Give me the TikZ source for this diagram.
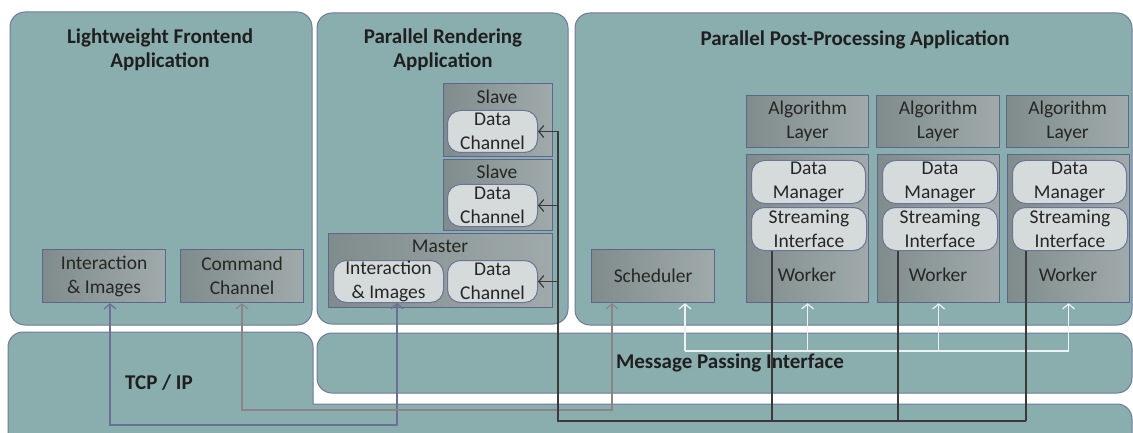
\documentclass[tikz,border=0pt]{standalone}
\usepackage{fontspec}
\setmainfont{Carlito}
\usetikzlibrary{arrows.meta}
\definecolor{panel}{HTML}{8AAEAE}
\definecolor{pedge}{HTML}{6F7A9C}
\definecolor{gboxA}{HTML}{808C8C}
\definecolor{gboxB}{HTML}{A0AAAA}
\definecolor{bedge}{HTML}{5D6590}
\definecolor{pillc}{HTML}{D5DADB}
\definecolor{pilledge}{HTML}{6E7498}
\definecolor{lblue}{HTML}{6C6F96}
\definecolor{lgray}{HTML}{8A8484}
\definecolor{ldark}{HTML}{3A3A3A}
\definecolor{lwhite}{HTML}{EEF2F2}
\definecolor{txt}{HTML}{262626}
\tikzset{
  panelbox/.style={fill=panel, draw=pedge, line width=1pt, rounded corners=15pt},
  gbox/.style={draw=bedge, line width=1.2pt, left color=gboxA, right color=gboxB,
    inner sep=0pt, align=center, anchor=north west, text=txt,
    font=\fontsize{19.5}{24}\selectfont},
  pillbox/.style={draw=pilledge, line width=1pt, fill=pillc, rounded corners=13pt,
    inner sep=0pt, align=center, anchor=north west, text=txt,
    font=\fontsize{19.5}{24}\selectfont},
  lbl/.style={inner sep=0pt, text=txt, font=\fontsize{19.5}{24}\selectfont},
  ttl/.style={inner sep=0pt, align=center, text=black!88,
    font=\bfseries\fontsize{21}{24}\selectfont},
  tips/.style={-{Straight Barb[length=5pt,width=12pt]}},
  dtips/.style={{Straight Barb[length=5pt,width=12pt]}-{Straight Barb[length=5pt,width=12pt]}},
  conn/.style={line width=1.2pt},
}
\begin{document}
\begin{tikzpicture}[x=1pt,y=-1pt]
\useasboundingbox (0,0) rectangle (1133,433);
\fill[white] (0,0) rectangle (1133,433);

% panels
\draw[panelbox] (10,12) rectangle (312,325);
\draw[panelbox] (317,13) rectangle (568,324);
\draw[panelbox] (575,13) rectangle (1132,325);
\draw[fill=panel, draw=pedge, line width=1pt] (8,450) [rounded corners=15pt] -- (8,332) -- (313,332) [sharp corners] -- (313,404) [rounded corners=15pt] -- (1132,404) -- (1132,450) [sharp corners] -- cycle;
\draw[panelbox] (317,333) rectangle (1132,393);

% titles
\node[ttl] (tfront) at (160,50) {Lightweight Frontend\\Application};
\node[ttl] (trend) at (443,50) {Parallel Rendering\\Application};
\node[ttl] (tpost) at (855,40) {Parallel Post-Processing Application};
\node[ttl] (tmpi) at (730,363) {Message Passing Interface};
\node[ttl] (ttcp) at (159,383) {TCP / IP};

% frontend
\node[gbox, minimum width=123pt, minimum height=53pt] (fii) at (42,249) {Interaction\\\& Images};
\node[gbox, minimum width=123pt, minimum height=53pt] (fcc) at (180,249) {Command\\Channel};

% rendering
\node[gbox, minimum width=109pt, minimum height=73pt] (sl1) at (443,83) {};
\node[lbl] (sl1t) at (497,97) {Slave};
\node[pillbox, minimum width=90pt, minimum height=42pt] (dc1) at (447,110) {Data\\Channel};
\node[gbox, minimum width=109pt, minimum height=71pt] (sl2) at (443,159) {};
\node[lbl] (sl2t) at (497,172) {Slave};
\node[pillbox, minimum width=90pt, minimum height=42pt] (dc2) at (447,184) {Data\\Channel};
\node[gbox, minimum width=224pt, minimum height=74pt] (mst) at (328,233) {};
\node[lbl] (mstt) at (440,246) {Master};
\node[pillbox, minimum width=110pt, minimum height=42pt] (mii) at (333,260) {Interaction\\\& Images};
\node[pillbox, minimum width=90pt, minimum height=42pt] (mdc) at (447,260) {Data\\Channel};

% post-processing
\node[gbox, minimum width=123pt, minimum height=53pt] (sched) at (591,249) {Scheduler};
\node[gbox, minimum width=122pt, minimum height=52pt] (al1) at (746,95) {Algorithm\\Layer};
\node[gbox, minimum width=123pt, minimum height=52pt] (al2) at (876,95) {Algorithm\\Layer};
\node[gbox, minimum width=122pt, minimum height=52pt] (al3) at (1006,95) {Algorithm\\Layer};
\node[gbox, minimum width=122pt, minimum height=148pt] (wk1) at (746,154) {};
\node[gbox, minimum width=122pt, minimum height=148pt] (wk2) at (877,154) {};
\node[gbox, minimum width=122pt, minimum height=148pt] (wk3) at (1007,154) {};
\node[pillbox, minimum width=114pt, minimum height=43pt] (dm1) at (751,160) {Data\\Manager};
\node[pillbox, minimum width=115pt, minimum height=43pt] (dm2) at (882,160) {Data\\Manager};
\node[pillbox, minimum width=114pt, minimum height=43pt] (dm3) at (1012,160) {Data\\Manager};
\node[pillbox, minimum width=115pt, minimum height=43pt] (si1) at (751,207) {Streaming\\Interface};
\node[pillbox, minimum width=115pt, minimum height=43pt] (si2) at (882,207) {Streaming\\Interface};
\node[pillbox, minimum width=115pt, minimum height=43pt] (si3) at (1012,207) {Streaming\\Interface};
\node[lbl] (wk1t) at (807,275) {Worker};
\node[lbl] (wk2t) at (938,275) {Worker};
\node[lbl] (wk3t) at (1068,275) {Worker};

% routing coordinates
\coordinate (ybusI) at (0,425);
\coordinate (ybusC) at (0,410);
\coordinate (ybusD) at (0,421);
\coordinate (ybusM) at (0,351);
\coordinate (xfi) at (110,0);
\coordinate (xmi) at (397,0);
\coordinate (xcc) at (242,0);
\coordinate (xsc) at (612,0);
\coordinate (xdv) at (558,0);
\coordinate (xms) at (685,0);
\coordinate (xw1) at (772,0);
\coordinate (xw2) at (898,0);
\coordinate (xw3) at (1026,0);

% MPI (white) connectors
\draw[conn, lwhite] (xms |- ybusM) -- (wk3.south |- ybusM);
\draw[conn, lwhite, tips] (xms |- ybusM) -- (sched.south -| xms);
\draw[conn, lwhite, tips] (wk1.south |- ybusM) -- (wk1.south);
\draw[conn, lwhite, tips] (wk2.south |- ybusM) -- (wk2.south);
\draw[conn, lwhite, tips] (wk3.south |- ybusM) -- (wk3.south);

% TCP connectors
\draw[conn, lblue, dtips] (fii.south -| xfi) -- (xfi |- ybusI) -- (xmi |- ybusI) -- (mii.south -| xmi);
\draw[conn, lgray, dtips] (fcc.south -| xcc) -- (xcc |- ybusC) -- (xsc |- ybusC) -- (sched.south -| xsc);

% data connectors
\draw[conn, ldark] (xdv |- dc1.east) -- (xdv |- ybusD) -- (xw3 |- ybusD);
\draw[conn, ldark, tips] (xdv |- dc1.east) -- (dc1.east);
\draw[conn, ldark, tips] (xdv |- dc2.east) -- (dc2.east);
\draw[conn, ldark, tips] (xdv |- mdc.east) -- (mdc.east);
\draw[conn, ldark] (si1.south -| xw1) -- (xw1 |- ybusD);
\draw[conn, ldark] (si2.south -| xw2) -- (xw2 |- ybusD);
\draw[conn, ldark] (si3.south -| xw3) -- (xw3 |- ybusD);
\end{tikzpicture}
\end{document}
